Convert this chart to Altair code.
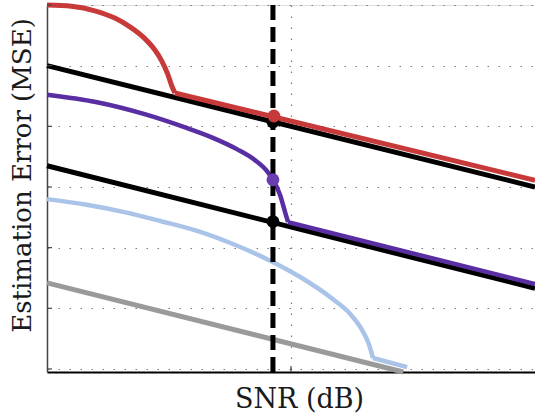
import altair as alt
import pandas as pd

# ---- data (x: SNR in arbitrary units 0..100, y: MSE arbitrary units) ----
black1_x = [0, 100]
black1_y = [5.0, 3.0]

black2_x = [0, 100]
black2_y = [3.35, 1.33]

# curved part up to the kink, then straight part
red_curve_x = [0, 5, 10, 14, 17, 20, 22, 23.5, 24.7, 25.6, 26.2]
red_curve_y = [6.0, 5.98, 5.90, 5.78, 5.64, 5.45, 5.27, 5.08, 4.87, 4.66, 4.55]
red_tail_x = [26.2, 100]
red_tail_y = [4.55, 3.11]

purple_curve_x = [0, 10, 20, 28, 34, 39, 42.5, 45, 46.3, 47.8, 48.8, 49.4]
purple_curve_y = [4.52, 4.40, 4.20, 3.99, 3.81, 3.62, 3.45, 3.27, 3.12, 2.86, 2.58, 2.42]
purple_tail_x = [49.4, 100]
purple_tail_y = [2.42, 1.40]

lightblue_curve_x = [0, 7.8, 15.6, 23.2, 31.4, 38.1, 45.1, 51.8, 58.6, 62.1, 64.8, 66.0, 66.8]
lightblue_curve_y = [2.80, 2.71, 2.59, 2.44, 2.26, 2.06, 1.81, 1.52, 1.15, 0.91, 0.61, 0.40, 0.18]
lightblue_tail_x = [66.8, 73.8]
lightblue_tail_y = [0.18, 0.03]

gray_x = [0, 73.0]
gray_y = [1.42, -0.05]

threshold_x = [46.3]

dot_names = ["black_a", "red", "purple", "black_b"]
dot_x = [46.3, 46.5, 46.3, 46.3]
dot_y = [4.07, 4.17, 3.12, 2.43]
dot_colors = ["#000000", "#c8393a", "#6a3db2", "#000000"]

ytick_values = [0, 1, 2, 3, 4, 5, 6]
xtick_values = [50]

X_DOMAIN = [0, 100]
Y_DOMAIN = [-0.05, 6.0]

xs = alt.Scale(domain=X_DOMAIN, nice=False, zero=False)
ys = alt.Scale(domain=Y_DOMAIN, nice=False, zero=False)

FONT = "DejaVu Serif"

x_axis = alt.Axis(
    values=xtick_values, grid=True, labels=False, ticks=False,
    domain=True, domainColor="#000000", domainWidth=2,
    gridDash=[1.5, 9.5], gridColor="#7a7a7a", gridWidth=1.2,
    title="SNR (dB)", titleFont=FONT, titleFontSize=27, titleFontWeight="normal",
    titleColor="#1a1a1a", titleX=252, titleY=35, titleAlign="center",
    titleBaseline="alphabetic",
)
y_axis = alt.Axis(
    values=ytick_values, grid=True, labels=False, ticks=False,
    domain=True, domainColor="#444444", domainWidth=1.5,
    gridDash=[1.5, 9.5], gridColor="#7a7a7a", gridWidth=1.2,
    title="Estimation Error (MSE)", titleFont=FONT, titleFontSize=26,
    titleFontWeight="normal", titleColor="#1a1a1a", titleAngle=270,
    titleX=-17, titleY=170, titleAlign="center", titleBaseline="alphabetic",
)


def line_layer(xv, yv, color, width, first=False, interp="linear"):
    df = pd.DataFrame({"x": xv, "y": yv, "o": list(range(len(xv)))})
    if first:
        xe = alt.X("x:Q", scale=xs, axis=x_axis)
        ye = alt.Y("y:Q", scale=ys, axis=y_axis)
    else:
        xe = alt.X("x:Q", scale=xs)
        ye = alt.Y("y:Q", scale=ys)
    return alt.Chart(df).mark_line(
        color=color, strokeWidth=width, strokeCap="butt", interpolate=interp
    ).encode(x=xe, y=ye, order="o:Q")


RED = "#c8393a"
PURPLE = "#5a2ea3"
LBLUE = "#a9c4e8"

layers = [
    line_layer(gray_x, gray_y, "#9a9a9a", 5, first=True),
    line_layer(lightblue_curve_x, lightblue_curve_y, LBLUE, 4.5, interp="monotone"),
    line_layer(lightblue_tail_x, lightblue_tail_y, LBLUE, 4.5),
    line_layer(black2_x, black2_y, "#000000", 5),
    line_layer(purple_curve_x, purple_curve_y, PURPLE, 4.5, interp="monotone"),
    line_layer(purple_tail_x, purple_tail_y, PURPLE, 4.5),
    line_layer(black1_x, black1_y, "#000000", 5),
    line_layer(red_curve_x, red_curve_y, RED, 5, interp="monotone"),
    line_layer(red_tail_x, red_tail_y, RED, 5),
]

thr = alt.Chart(pd.DataFrame({"x": threshold_x})).mark_rule(
    color="#000000", strokeWidth=5, strokeDash=[15, 7]
).encode(x=alt.X("x:Q", scale=xs))

dots_df = pd.DataFrame({"name": dot_names, "x": dot_x, "y": dot_y, "c": dot_colors})
dots = alt.Chart(dots_df).mark_circle(size=165, opacity=1).encode(
    x=alt.X("x:Q", scale=xs),
    y=alt.Y("y:Q", scale=ys),
    color=alt.Color("c:N", scale=None),
)

yticks = alt.Chart(pd.DataFrame({"y": ytick_values})).mark_rule(
    color="#444444", strokeWidth=1.2
).encode(y=alt.Y("y:Q", scale=ys), x=alt.value(0), x2=alt.value(5))

xticks = alt.Chart(pd.DataFrame({"x": xtick_values})).mark_rule(
    color="#444444", strokeWidth=1.2
).encode(x=alt.X("x:Q", scale=xs), y=alt.value(367), y2=alt.value(361))

chart = alt.layer(*layers, thr, dots, yticks, xticks).properties(
    width=488, height=367,
    autosize=alt.AutoSizeParams(type="none"),
    padding={"left": 47, "top": 5, "right": 0, "bottom": 46},
).configure_view(stroke=None).configure(background="white")

chart.save("out.html", embed_options={"renderer": "svg", "actions": False})
